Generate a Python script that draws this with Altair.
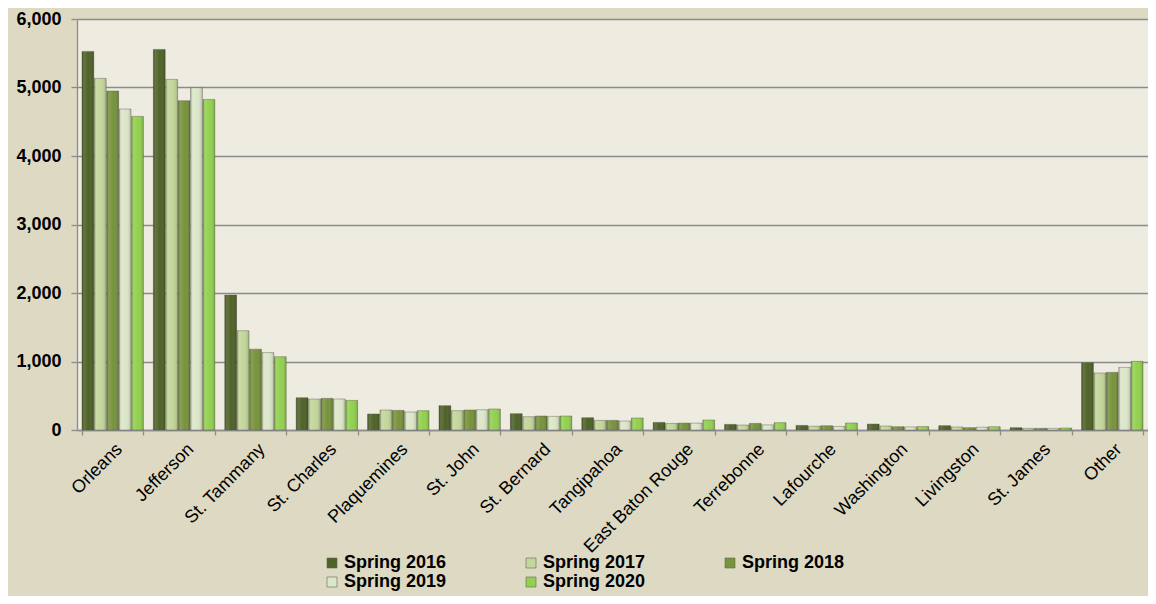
import altair as alt
import pandas as pd

counties = ["Orleans", "Jefferson", "St. Tammany", "St. Charles", "Plaquemines", "St. John",
            "St. Bernard", "Tangipahoa", "East Baton Rouge", "Terrebonne", "Lafourche",
            "Washington", "Livingston", "St. James", "Other"]
series = ["Spring 2016", "Spring 2017", "Spring 2018", "Spring 2019", "Spring 2020"]

spring_2016 = [5527, 5556, 1970, 471, 234, 355, 238, 180, 111, 82, 67, 87, 63, 34, 982]
spring_2017 = [5133, 5118, 1450, 452, 292, 282, 194, 140, 96, 72, 55, 58, 44, 24, 832]
spring_2018 = [4949, 4807, 1180, 462, 286, 292, 204, 140, 101, 96, 62, 48, 34, 24, 841]
spring_2019 = [4686, 4997, 1130, 452, 263, 296, 199, 131, 100, 75, 52, 45, 40, 24, 914]
spring_2020 = [4578, 4826, 1070, 432, 282, 307, 204, 175, 146, 107, 102, 50, 48, 29, 1002]

colors = ["#4F6228", "#C3D69B", "#77933C", "#DCE6C8", "#92D050"]
y_ticks = [0, 1000, 2000, 3000, 4000, 5000, 6000]

rows = []
for s, vals in zip(series, [spring_2016, spring_2017, spring_2018, spring_2019, spring_2020]):
    for c, v in zip(counties, vals):
        rows.append({"county": c, "series": s, "value": v})
df = pd.DataFrame(rows)

FONT = "Liberation Sans"
GRID = "#8C8C8C"

x_enc = alt.X("county:N", sort=counties, title=None,
              scale=alt.Scale(paddingInner=0.14, paddingOuter=0.07),
              axis=alt.Axis(labelAngle=-45, tickBand="extent", labelFont=FONT, labelFontSize=18,
                            labelColor="black", labelPadding=5, tickColor=GRID, tickSize=5,
                            domainColor=GRID, domainWidth=1.3, tickWidth=1.3, grid=False))
xoff_enc = alt.XOffset("series:N", sort=series, scale=alt.Scale(paddingInner=0.05))
y_enc = alt.Y("value:Q", title=None, scale=alt.Scale(domain=[0, 6000], nice=False),
              axis=alt.Axis(values=y_ticks, format=",.0f", labelFont=FONT, labelFontSize=18,
                            labelFontWeight="bold", labelColor="black", labelPadding=10,
                            tickColor=GRID, tickSize=6, tickWidth=1.3, domainColor=GRID,
                            domainWidth=1.3, gridColor=GRID, gridWidth=1.5))

base = alt.Chart(df).mark_bar(stroke="#555544", strokeWidth=0.6, strokeOpacity=0.7).encode(
    x=x_enc, xOffset=xoff_enc, y=y_enc,
    color=alt.Color("series:N", sort=series, scale=alt.Scale(domain=series, range=colors),
                    legend=alt.Legend(title=None, orient="none", legendX=246, legendY=535,
                                      columns=3, direction="horizontal", symbolType="square",
                                      symbolSize=100, symbolStrokeColor="#666655",
                                      symbolStrokeWidth=0.6, labelFont=FONT, labelFontSize=18,
                                      labelFontWeight="bold", labelColor="black", labelOffset=3,
                                      columnPadding=75, rowPadding=1)),
)

shade = alt.Chart(df).mark_bar(
    fill=alt.Gradient(
        gradient="linear", x1=0, x2=1, y1=0, y2=0,
        stops=[alt.GradientStop(offset=0, color="rgba(0,0,0,0.22)"),
               alt.GradientStop(offset=0.18, color="rgba(255,255,255,0.12)"),
               alt.GradientStop(offset=0.55, color="rgba(255,255,255,0.0)"),
               alt.GradientStop(offset=1, color="rgba(0,0,0,0.18)")]),
).encode(x=x_enc, xOffset=xoff_enc, y=y_enc)

chart = alt.layer(base, shade).properties(
    width=1071, height=411,
    padding={"left": 69, "top": 11, "right": 0, "bottom": 166},
    autosize=alt.AutoSizeParams(type="none"),
    background="#DDD9C3",
).configure_view(fill="#EEECE1", stroke=None)

chart.save("out.html", embed_options={"renderer": "svg", "actions": False})
